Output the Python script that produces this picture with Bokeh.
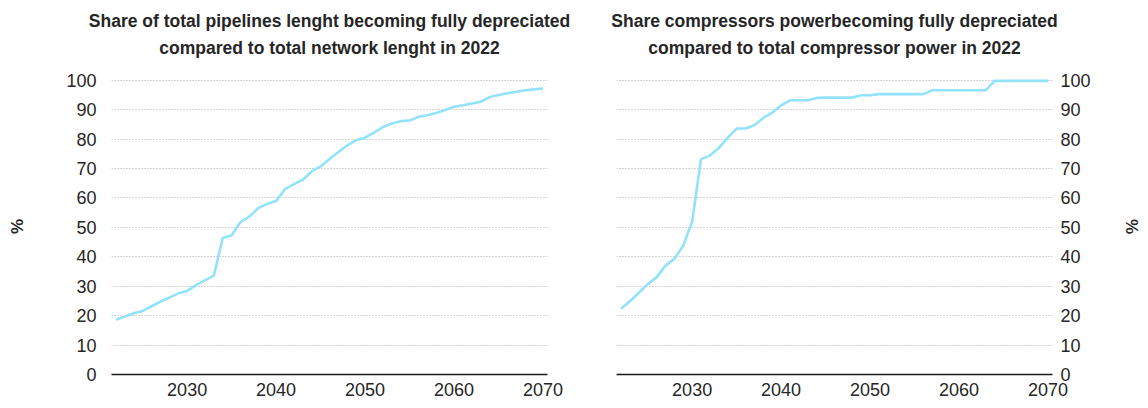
from bokeh.plotting import figure
from bokeh.layouts import row, column
from bokeh.models import Title, FixedTicker, Range1d, ColumnDataSource, Spacer
from bokeh.embed import file_html
from bokeh.resources import INLINE

# ---------------- data ----------------
years = list(range(2022, 2071))

pipelines_share = [
    18.6, 19.7, 20.8, 21.6, 23.2, 24.8, 26.1, 27.6, 28.4, 30.4,
    32.0, 33.6, 46.4, 47.3, 51.8, 53.7, 56.6, 58.0, 59.0, 63.0,
    64.7, 66.2, 69.0, 70.7, 73.2, 75.6, 77.9, 79.6, 80.5, 82.2,
    84.1, 85.3, 86.1, 86.3, 87.6, 88.1, 88.9, 89.9, 91.0, 91.5,
    92.1, 92.7, 94.3, 95.0, 95.6, 96.1, 96.6, 96.9, 97.2,
]

compressors_share = [
    22.3, 24.9, 27.7, 30.7, 33.0, 37.0, 39.3, 43.8, 51.9, 73.2,
    74.4, 77.0, 80.4, 83.6, 83.6, 84.7, 87.2, 89.0, 91.5, 93.2,
    93.2, 93.2, 94.0, 94.1, 94.1, 94.1, 94.1, 94.9, 94.9, 95.3,
    95.3, 95.3, 95.3, 95.3, 95.3, 96.6, 96.6, 96.6, 96.6, 96.6,
    96.6, 96.6, 99.8, 99.8, 99.8, 99.8, 99.8, 99.8, 99.8,
]

x_ticks = [2030, 2040, 2050, 2060, 2070]
y_ticks = [0, 10, 20, 30, 40, 50, 60, 70, 80, 90, 100]

title_left = ["Share of total pipelines lenght becoming fully depreciated",
              "compared to total network lenght in 2022"]
title_right = ["Share compressors powerbecoming fully depreciated",
               "compared to total compressor power in 2022"]
y_label = "%"

# ---------------- style ----------------
FONT = "Liberation Sans"
LINE_COLOR = "#93E2FC"
TEXT_COLOR = "#262626"
GRID_COLOR = "#A6A6A6"


def make_panel(values, titles, side, border_left, border_right,
               tick_standoff, label_standoff):
    p = figure(
        frame_width=436, frame_height=296,
        x_range=Range1d(2021.5, 2070.5), y_range=Range1d(0, 100.6),
        y_axis_location=side,
        output_backend="svg", toolbar_location=None,
        min_border_left=border_left, min_border_right=border_right,
        min_border_top=0, min_border_bottom=0,
    )
    p.outline_line_color = None
    p.background_fill_color = "white"
    p.border_fill_color = "white"

    src = ColumnDataSource(dict(year=years, value=values))
    p.line("year", "value", source=src, line_color=LINE_COLOR, line_width=2.6,
           line_join="round")

    # grid
    p.xgrid.grid_line_color = None
    p.ygrid.ticker = FixedTicker(ticks=y_ticks)
    p.ygrid.grid_line_color = GRID_COLOR
    p.ygrid.grid_line_dash = "1 2"
    p.ygrid.grid_line_width = 1

    # x axis
    xa = p.xaxis[0]
    xa.ticker = FixedTicker(ticks=x_ticks)
    xa.axis_line_color = "#1A1A1A"
    xa.axis_line_width = 1.6
    xa.major_tick_line_color = None
    xa.minor_tick_line_color = None
    xa.major_label_text_font = FONT
    xa.major_label_text_font_size = "18px"
    xa.major_label_text_color = TEXT_COLOR
    xa.major_label_standoff = 2

    # y axis
    ya = p.yaxis[0]
    ya.ticker = FixedTicker(ticks=y_ticks)
    ya.axis_line_color = None
    ya.major_tick_line_color = None
    ya.minor_tick_line_color = None
    ya.major_label_text_font = FONT
    ya.major_label_text_font_size = "18px"
    ya.major_label_text_color = TEXT_COLOR
    ya.major_label_standoff = tick_standoff
    ya.axis_label = y_label
    ya.axis_label_text_font = FONT
    ya.axis_label_text_font_size = "17px"
    ya.axis_label_text_font_style = "bold"
    ya.axis_label_text_color = TEXT_COLOR
    ya.axis_label_standoff = label_standoff

    # panels above the frame, from the frame outward:
    # an empty spacer, then title line 2, then title line 1
    p.add_layout(Title(text=" ", text_font=FONT, text_font_size="10px",
                       standoff=5), "above")
    p.add_layout(Title(text=titles[1], align="center", text_font=FONT,
                       text_font_size="17.5px", text_font_style="bold",
                       text_color=TEXT_COLOR, standoff=5), "above")
    p.add_layout(Title(text=titles[0], align="center", text_font=FONT,
                       text_font_size="17.5px", text_font_style="bold",
                       text_color=TEXT_COLOR, standoff=5), "above")
    return p


p_left = make_panel(pipelines_share, title_left, "left", 0, 28, 9, 36)
p_right = make_panel(compressors_share, title_right, "right", 41, 0, 2, 28)

layout = column(Spacer(height=6), row(Spacer(width=5), p_left, p_right))
open("out.html", "w").write(file_html(layout, INLINE))
